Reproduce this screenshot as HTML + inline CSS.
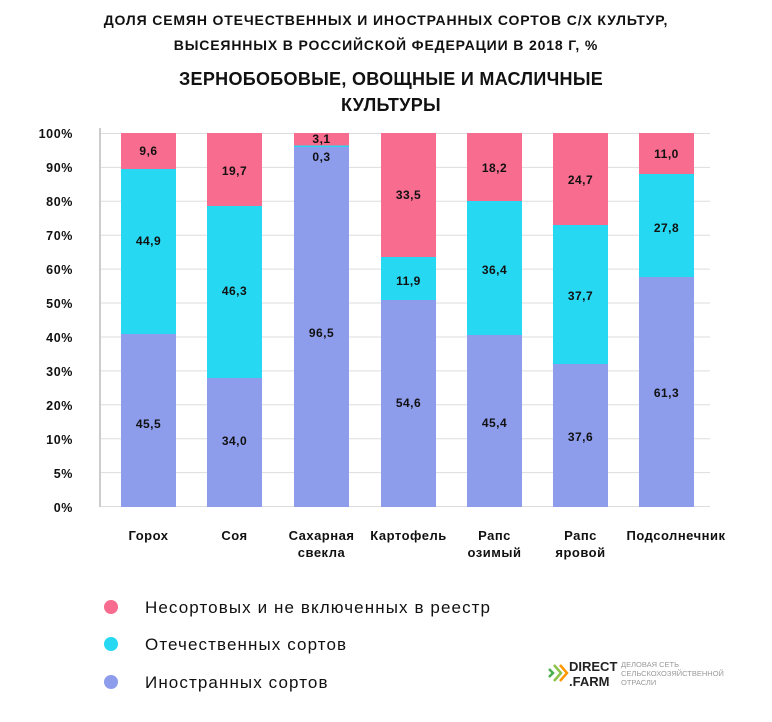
<!DOCTYPE html>
<html><head><meta charset="utf-8"><style>
body{margin:0;background:#fff;}
svg{display:block;font-family:"Liberation Sans","DejaVu Sans",sans-serif;}
.t{font-weight:bold;fill:#111;}
.v{font-size:12px;font-weight:bold;fill:#111;text-anchor:middle;letter-spacing:0.5px;}
.y{font-size:12.5px;font-weight:bold;fill:#111;text-anchor:end;letter-spacing:0.6px;}
.x{font-size:13px;font-weight:bold;fill:#111;text-anchor:middle;letter-spacing:0.5px;}
.l{font-size:17px;fill:#111;letter-spacing:1.1px;}
</style></head><body>
<svg width="772" height="722" viewBox="0 0 772 722">
<text class="t" x="386" y="25" font-size="14" text-anchor="middle" letter-spacing="0.85">ДОЛЯ СЕМЯН ОТЕЧЕСТВЕННЫХ И ИНОСТРАННЫХ СОРТОВ С/Х КУЛЬТУР,</text>
<text class="t" x="386" y="50" font-size="14" text-anchor="middle" letter-spacing="0.85">ВЫСЕЯННЫХ В РОССИЙСКОЙ ФЕДЕРАЦИИ В 2018 Г, %</text>
<text class="t" x="391" y="85" font-size="18" text-anchor="middle" letter-spacing="0.3">ЗЕРНОБОБОВЫЕ, ОВОЩНЫЕ И МАСЛИЧНЫЕ</text>
<text class="t" x="391" y="111" font-size="18" text-anchor="middle" letter-spacing="0.3">КУЛЬТУРЫ</text>
<g stroke="#ddd" stroke-width="1">
<line x1="100" x2="710" y1="133.5" y2="133.5"/><line x1="100" x2="710" y1="167.4" y2="167.4"/><line x1="100" x2="710" y1="201.3" y2="201.3"/><line x1="100" x2="710" y1="235.2" y2="235.2"/><line x1="100" x2="710" y1="269.1" y2="269.1"/><line x1="100" x2="710" y1="303" y2="303"/><line x1="100" x2="710" y1="337" y2="337"/><line x1="100" x2="710" y1="370.9" y2="370.9"/><line x1="100" x2="710" y1="404.8" y2="404.8"/><line x1="100" x2="710" y1="438.7" y2="438.7"/><line x1="100" x2="710" y1="472.6" y2="472.6"/><line x1="100" x2="710" y1="506.5" y2="506.5"/>
</g>
<line x1="100" x2="100" y1="128" y2="507" stroke="#ccc" stroke-width="2"/>
<g>
<text class="y" x="73" y="138">100%</text><text class="y" x="73" y="172">90%</text><text class="y" x="73" y="206">80%</text><text class="y" x="73" y="240">70%</text><text class="y" x="73" y="274">60%</text><text class="y" x="73" y="308">50%</text><text class="y" x="73" y="342">40%</text><text class="y" x="73" y="376">30%</text><text class="y" x="73" y="410">20%</text><text class="y" x="73" y="444">10%</text><text class="y" x="73" y="478">5%</text><text class="y" x="73" y="512">0%</text>
</g>
<g>
<rect x="121" y="133" width="55" height="37" fill="#f76c8f"/><rect x="121" y="169" width="55" height="166" fill="#27d8f2"/><rect x="121" y="334" width="55" height="173" fill="#8e9cec"/>
<rect x="207" y="133" width="55" height="75" fill="#f76c8f"/><rect x="207" y="206" width="55" height="173" fill="#27d8f2"/><rect x="207" y="378" width="55" height="129" fill="#8e9cec"/>
<rect x="294" y="133" width="55" height="13" fill="#f76c8f"/><rect x="294" y="145.5" width="55" height="1.5" fill="#27d8f2"/><rect x="294" y="147" width="55" height="360" fill="#8e9cec"/>
<rect x="381" y="133" width="55" height="125" fill="#f76c8f"/><rect x="381" y="257" width="55" height="44" fill="#27d8f2"/><rect x="381" y="300" width="55" height="207" fill="#8e9cec"/>
<rect x="467" y="133" width="55" height="69" fill="#f76c8f"/><rect x="467" y="201" width="55" height="135" fill="#27d8f2"/><rect x="467" y="335" width="55" height="172" fill="#8e9cec"/>
<rect x="553" y="133" width="55" height="93" fill="#f76c8f"/><rect x="553" y="225" width="55" height="140" fill="#27d8f2"/><rect x="553" y="364" width="55" height="143" fill="#8e9cec"/>
<rect x="639" y="133" width="55" height="42" fill="#f76c8f"/><rect x="639" y="174" width="55" height="104" fill="#27d8f2"/><rect x="639" y="277" width="55" height="230" fill="#8e9cec"/>
</g>
<g>
<text class="v" x="148.5" y="155">9,6</text><text class="v" x="148.5" y="245">44,9</text><text class="v" x="148.5" y="428">45,5</text>
<text class="v" x="234.5" y="175">19,7</text><text class="v" x="234.5" y="295">46,3</text><text class="v" x="234.5" y="445">34,0</text>
<text class="v" x="321.5" y="143">3,1</text><text class="v" x="321.5" y="161">0,3</text><text class="v" x="321.5" y="337">96,5</text>
<text class="v" x="408.5" y="199">33,5</text><text class="v" x="408.5" y="285">11,9</text><text class="v" x="408.5" y="407">54,6</text>
<text class="v" x="494.5" y="172">18,2</text><text class="v" x="494.5" y="274">36,4</text><text class="v" x="494.5" y="427">45,4</text>
<text class="v" x="580.5" y="184">24,7</text><text class="v" x="580.5" y="300">37,7</text><text class="v" x="580.5" y="441">37,6</text>
<text class="v" x="666.5" y="158">11,0</text><text class="v" x="666.5" y="232">27,8</text><text class="v" x="666.5" y="397">61,3</text>
</g>
<g>
<text class="x" x="148.5" y="540">Горох</text>
<text class="x" x="234.5" y="540">Соя</text>
<text class="x" x="321.5" y="540">Сахарная</text><text class="x" x="321.5" y="557">свекла</text>
<text class="x" x="408.5" y="540">Картофель</text>
<text class="x" x="494.5" y="540">Рапс</text><text class="x" x="494.5" y="557">озимый</text>
<text class="x" x="580.5" y="540">Рапс</text><text class="x" x="580.5" y="557">яровой</text>
<text class="x" x="676" y="540">Подсолнечник</text>
</g>
<circle cx="111" cy="607" r="7" fill="#f76c8f"/><text class="l" x="145" y="613">Несортовых и не включенных в реестр</text>
<circle cx="111" cy="644" r="7" fill="#27d8f2"/><text class="l" x="145" y="650">Отечественных сортов</text>
<circle cx="111" cy="682" r="7" fill="#8e9cec"/><text class="l" x="145" y="688">Иностранных сортов</text>
<g fill="none" stroke-width="2.5">
<path d="M549 669l4 4-4 4" stroke="#4caf50"/><path d="M554 665l7 8-7 8" stroke="#8bc34a"/><path d="M560 665l7 8-7 8" stroke="#ff9800"/>
</g>
<text x="569" y="671" font-size="13" font-weight="bold" fill="#222">DIRECT</text>
<text x="569" y="686" font-size="13" font-weight="bold" fill="#222">.FARM</text>
<text x="621" y="667" font-size="7.5" fill="#999">ДЕЛОВАЯ СЕТЬ</text>
<text x="621" y="676" font-size="7.5" fill="#999">СЕЛЬСКОХОЗЯЙСТВЕННОЙ</text>
<text x="621" y="685" font-size="7.5" fill="#999">ОТРАСЛИ</text>
</svg>
</body></html>
